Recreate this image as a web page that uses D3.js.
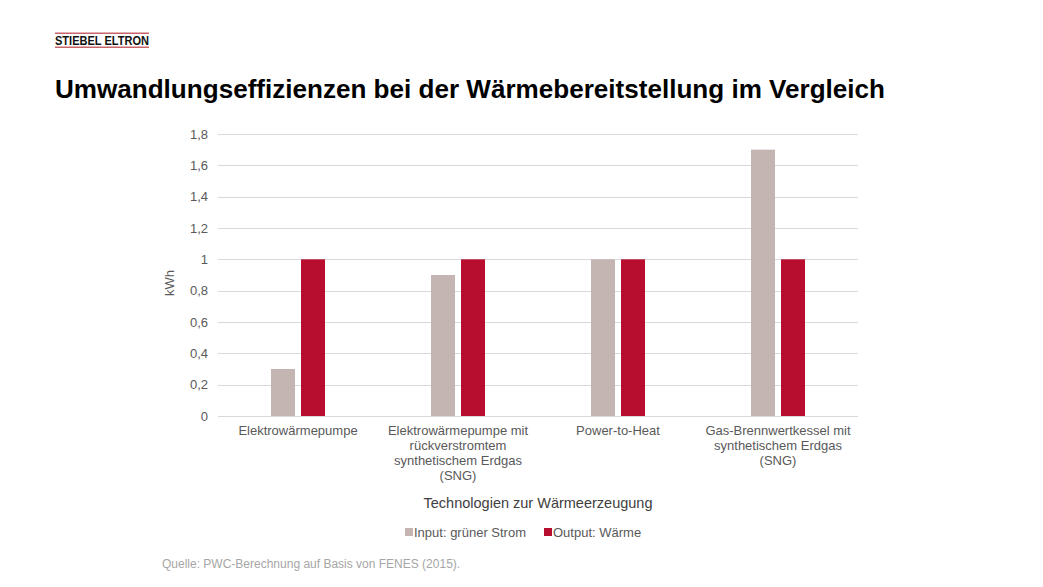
<!DOCTYPE html>
<html><head><meta charset="utf-8">
<script src="https://cdn.jsdelivr.net/npm/d3@7"></script>
<style>body{margin:0;background:#fff}svg{display:block}text{font-family:"Liberation Sans",Arial,sans-serif}</style>
</head><body>
<svg id="c" width="1043" height="587"></svg>
<script>
const categories = [
  ["Elektrowärmepumpe"],
  ["Elektrowärmepumpe mit", "rückverstromtem", "synthetischem Erdgas", "(SNG)"],
  ["Power-to-Heat"],
  ["Gas-Brennwertkessel mit", "synthetischem Erdgas", "(SNG)"]
];
const seriesNames = ["Input: grüner Strom", "Output: Wärme"];
const inputValues = [0.3, 0.9, 1.0, 1.7];
const outputValues = [1, 1, 1, 1];
const yTicks = [0, 0.2, 0.4, 0.6, 0.8, 1, 1.2, 1.4, 1.6, 1.8];
const colors = ["#c4b5b2", "#b70d2e"];

const svg = d3.select("#c");
// logo
const logo = svg.append("g");
logo.append("rect").attr("x",55).attr("width",94).attr("y",32.5).attr("height",1.5).attr("fill","#c9646a");
logo.append("rect").attr("x",55).attr("width",94).attr("y",46.5).attr("height",1.5).attr("fill","#c9646a");
logo.append("text").attr("x",55).attr("y",45).attr("font-size",12.5).attr("font-weight","bold").attr("fill","#111")
  .attr("textLength",94).attr("lengthAdjust","spacingAndGlyphs").text("STIEBEL ELTRON");

svg.append("text").attr("x",55).attr("y",98).attr("font-size",25.8).attr("font-weight","bold").attr("fill","#000")
  .attr("textLength",830).attr("lengthAdjust","spacingAndGlyphs")
  .text("Umwandlungseffizienzen bei der Wärmebereitstellung im Vergleich");

const L = 218, R = 858, T = 134, B = 416;
const y = d3.scaleLinear().domain([0,1.8]).range([B,T]);
const x0 = d3.scaleBand().domain(d3.range(categories.length)).range([L,R]).paddingInner(0.6625).paddingOuter(0.33125);
const x1 = d3.scaleBand().domain([0,1]).range([0,x0.bandwidth()]).paddingInner(0.2);

// grid
svg.append("g").selectAll("line").data(yTicks).join("line")
  .attr("x1",L).attr("x2",R).attr("y1",d=>Math.round(y(d))+0.5).attr("y2",d=>Math.round(y(d))+0.5)
  .attr("stroke","#d9d9d9").attr("stroke-width",1);

// y axis
const ya = svg.append("g").attr("transform",`translate(${L},0)`)
  .call(d3.axisLeft(y).tickValues(yTicks).tickSize(0).tickPadding(10).tickFormat(d=>String(d).replace(".",",")));
ya.select(".domain").remove();
ya.selectAll("text").attr("font-size",13).attr("fill","#595959").attr("font-family","Liberation Sans, Arial, sans-serif");

svg.append("text").attr("transform",`translate(174,${(T+B)/2+8}) rotate(-90)`).attr("text-anchor","middle")
  .attr("font-size",13).attr("fill","#595959").text("kWh");

// bars
const data = categories.map((c,i)=>[inputValues[i], outputValues[i]]);
const g = svg.append("g").selectAll("g").data(data).join("g").attr("transform",(d,i)=>`translate(${x0(i)},0)`);
g.selectAll("rect").data(d=>d.map((v,s)=>({v,s}))).join("rect")
  .attr("x",d=>x1(d.s)).attr("width",x1.bandwidth())
  .attr("y",d=>y(d.v)).attr("height",d=>y(0)-y(d.v)).attr("fill",d=>colors[d.s]);

// x axis labels
const xl = svg.append("g").selectAll("text").data(categories).join("text")
  .attr("text-anchor","middle").attr("font-size",13).attr("fill","#595959")
  .attr("x",(d,i)=>x0(i)+x0.bandwidth()/2).attr("y",435);
xl.selectAll("tspan").data(d=>d).join("tspan").attr("x",function(){return this.parentNode.getAttribute("x");})
  .attr("dy",(d,i)=>i===0?0:15).text(d=>d);

svg.append("text").attr("x",538).attr("y",508).attr("text-anchor","middle").attr("font-size",14.5).attr("fill","#404040")
  .text("Technologien zur Wärmeerzeugung");

// legend
const leg = svg.append("g");
const legX = [405, 544];
seriesNames.forEach((n,i)=>{
  leg.append("rect").attr("x",legX[i]).attr("y",528).attr("width",8).attr("height",8).attr("fill",colors[i]);
  leg.append("text").attr("x",legX[i]+9).attr("y",537).attr("font-size",13).attr("fill","#595959").text(n);
});

svg.append("text").attr("x",162).attr("y",568).attr("font-size",12).attr("fill","#a6a6a6")
  .text("Quelle: PWC-Berechnung auf Basis von FENES (2015).");
</script>
</body></html>
